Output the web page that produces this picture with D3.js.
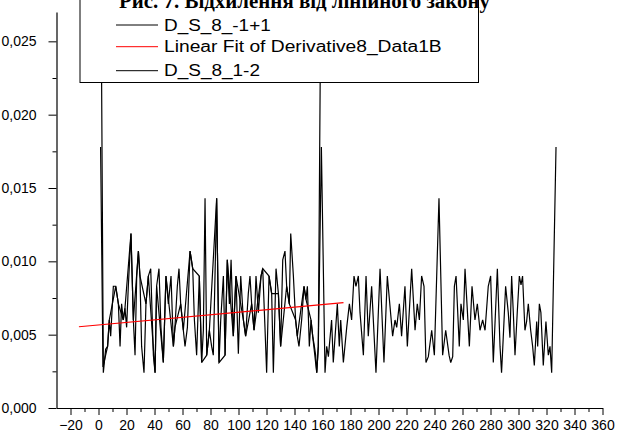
<!DOCTYPE html>
<html>
<head>
<meta charset="utf-8">
<script src="https://cdn.jsdelivr.net/npm/d3@7"></script>
<style>
  body { margin: 0; background: #fff; }
  svg { display: block; }
  text { font-family: Arial, "Liberation Sans", sans-serif; fill: #000; }
</style>
</head>
<body>
<svg id="chart" width="629" height="434"></svg>
<script>
// ---- data -------------------------------------------------------------
const titleText = "Рис. 7. Відхилення від лінійного закону";
const seriesNames = ["D_S_8_-1+1", "Linear Fit of Derivative8_Data1B", "D_S_8_1-2"];
const xTickValues = [-20, 0, 20, 40, 60, 80, 100, 120, 140, 160, 180, 200, 220, 240, 260, 280, 300, 320, 340, 360];
const yTickValues = [0, 0.005, 0.010, 0.015, 0.020, 0.025];

// D_S_8_-1+1  [x, value]
const dsA = [
  [1.5, 0.034], [3.45, 0.0024], [5.1, 0.0040], [6.5, 0.0042], [7.7, 0.0060],
  [8.7, 0.0049], [10.6, 0.0083], [12.3, 0.0083], [14.2, 0.0071], [15.4, 0.0042],
  [16.5, 0.0071], [17.7, 0.0060], [18.9, 0.0068], [20.1, 0.0055], [21.3, 0.0083],
  [23.2, 0.0119], [24.9, 0.0060], [26.1, 0.0036], [27.3, 0.0090], [28.5, 0.0107],
  [29.6, 0.0090], [30.8, 0.0042], [32.5, 0.0024], [33.9, 0.0071], [35.6, 0.0090],
  [37.3, 0.0095], [39.2, 0.0036], [40.4, 0.0024], [41.5, 0.0083], [43.2, 0.0095],
  [44.6, 0.0055], [46.3, 0.0031], [48.2, 0.0090], [49.9, 0.0071], [51.8, 0.0090],
  [53.5, 0.0042], [54.6, 0.0055], [56.3, 0.0083], [57.5, 0.0095], [58.7, 0.0071],
  [60.6, 0.0053], [61.8, 0.0042], [63.5, 0.0055], [65.4, 0.0107], [67.3, 0.0095],
  [68.5, 0.0060], [70.1, 0.0036], [72.0, 0.0090], [73.7, 0.0031], [74.9, 0.0053],
  [76.1, 0.0143], [77.3, 0.0036], [79.2, 0.0053], [80.8, 0.0042], [82.0, 0.0036],
  [84.4, 0.0143], [86.1, 0.0031], [87.3, 0.0060], [89.2, 0.0090], [90.4, 0.0036],
  [92.0, 0.0101], [93.5, 0.0071], [94.7, 0.0101], [96.3, 0.0049], [98.2, 0.0090],
  [99.9, 0.0037], [101.6, 0.0090], [103.5, 0.0060], [105.1, 0.0049], [107.0, 0.0078],
  [108.2, 0.0090], [109.4, 0.0071], [111.1, 0.0053], [112.5, 0.0090], [114.2, 0.0065],
  [116.1, 0.0090], [117.3, 0.0095], [118.9, 0.0055], [120.1, 0.0024], [121.8, 0.0090],
  [123.7, 0.0078], [124.9, 0.0024], [126.8, 0.0095], [128.5, 0.0078], [130.1, 0.0042],
  [131.6, 0.0101], [133.2, 0.0107], [134.4, 0.0083], [136.3, 0.0071], [137.3, 0.0119],
  [139.2, 0.0090], [140.8, 0.0060], [142.0, 0.0049], [143.2, 0.0042], [145.1, 0.0060],
  [146.8, 0.0083], [148.2, 0.0074], [149.2, 0.0083], [150.6, 0.0042], [151.8, 0.0060],
  [153.0, 0.0049], [154.2, 0.0042], [155.1, 0.0036], [155.9, 0.0024], [157.0, 0.0042],
  [159.2, 0.034]
];

// D_S_8_1-2  [x, value]
const dsB = [
  [1.5, 0.0178], [3.2, 0.0028], [6.5, 0.0042], [7.7, 0.0060], [12.3, 0.0083],
  [14.2, 0.0071], [17.7, 0.0060], [18.9, 0.0068], [23.2, 0.0119], [24.9, 0.0060],
  [28.5, 0.0107], [29.6, 0.0090], [33.9, 0.0071], [35.6, 0.0090], [40.4, 0.0024],
  [41.5, 0.0083], [46.3, 0.0031], [48.2, 0.0090], [53.5, 0.0042], [54.6, 0.0055],
  [58.7, 0.0071], [60.6, 0.0053], [65.4, 0.0107], [67.3, 0.0095], [72.0, 0.0090],
  [73.7, 0.0031], [77.3, 0.0036], [79.2, 0.0053], [84.4, 0.0143], [86.1, 0.0031],
  [90.4, 0.0036], [92.0, 0.0101], [96.3, 0.0049], [98.2, 0.0090], [103.5, 0.0060],
  [105.1, 0.0049], [109.4, 0.0071], [111.1, 0.0053], [116.1, 0.0090], [117.3, 0.0095],
  [121.8, 0.0090], [123.7, 0.0078], [128.5, 0.0078], [130.1, 0.0042], [134.4, 0.0083],
  [136.3, 0.0071], [140.8, 0.0060], [142.0, 0.0049], [146.8, 0.0083], [148.2, 0.0074],
  [151.8, 0.0060], [153.0, 0.0049], [155.9, 0.0024], [157.0, 0.0042], [159.2, 0.0178],
  [161.8, 0.0024], [163.0, 0.0042], [164.2, 0.0035], [166.5, 0.0060], [167.7, 0.0031],
  [170.6, 0.0071], [172.0, 0.0042], [173.0, 0.0060], [174.9, 0.0031], [177.3, 0.0055],
  [179.2, 0.0071], [180.8, 0.0060], [182.5, 0.0090], [183.9, 0.0083], [185.6, 0.0090],
  [186.8, 0.0065], [189.2, 0.0036], [191.1, 0.0090], [192.7, 0.0049], [195.1, 0.0083],
  [198.2, 0.0024], [201.1, 0.0095], [203.9, 0.0031], [206.3, 0.0090], [210.1, 0.0049],
  [211.8, 0.0060], [213.0, 0.0055], [214.9, 0.0071], [216.5, 0.0049], [218.9, 0.0083],
  [220.6, 0.0042], [223.7, 0.0095], [226.1, 0.0053], [227.7, 0.0071], [229.2, 0.0060],
  [230.8, 0.0090], [232.5, 0.0083], [233.9, 0.0031], [235.6, 0.0035], [238.0, 0.0053],
  [239.9, 0.0036], [243.2, 0.0143], [245.8, 0.0036], [248.0, 0.0053], [250.4, 0.0036],
  [251.6, 0.0031], [253.0, 0.0035], [254.2, 0.0083], [255.4, 0.0090], [257.7, 0.0042],
  [258.9, 0.0071], [260.6, 0.0060], [261.8, 0.0095], [264.9, 0.0042], [266.8, 0.0083],
  [268.9, 0.0060], [270.6, 0.0071], [272.5, 0.0053], [274.4, 0.0060], [276.1, 0.0053],
  [278.4, 0.0083], [280.1, 0.0090], [282.0, 0.0031], [284.9, 0.0095], [286.8, 0.0042],
  [287.9, 0.0024], [289.1, 0.0048], [290.8, 0.0083], [292.7, 0.0065], [293.9, 0.0048],
  [295.1, 0.0090], [296.3, 0.0065], [297.5, 0.0036], [299.1, 0.0065], [300.6, 0.0090],
  [301.8, 0.0084], [302.9, 0.0090], [304.6, 0.0053], [305.8, 0.0059], [307.0, 0.0071],
  [308.7, 0.0053], [310.1, 0.0042], [311.3, 0.0029], [313.0, 0.0059], [313.7, 0.0042],
  [314.9, 0.0071], [316.0, 0.0065], [317.7, 0.0029], [319.6, 0.0059], [321.3, 0.0036],
  [322.5, 0.0042], [323.7, 0.0024], [326.8, 0.0178]
];

// Linear fit endpoints [x, value]
const fitLine = [[-14, 0.00554], [175, 0.00718]];

// ---- layout -----------------------------------------------------------
const svg = d3.select("#chart");
const plot = { left: 56.5, right: 602.5, top: 12, bottom: 408 };

const x = d3.scaleLinear().domain([-30, 360]).range([plot.left, plot.right]);
const y = d3.scaleLinear().domain([0, 0.027]).range([plot.bottom, plot.top]);

svg.append("defs").append("clipPath").attr("id", "plotClip")
  .append("rect")
  .attr("x", plot.left).attr("y", 0)
  .attr("width", plot.right - plot.left).attr("height", plot.bottom);

const line = d3.line().x(d => x(d[0])).y(d => y(d[1]));

const dataG = svg.append("g").attr("clip-path", "url(#plotClip)");
[dsA, dsB].forEach(s => {
  dataG.append("path").datum(s)
    .attr("d", line)
    .attr("fill", "none")
    .attr("stroke", "#000")
    .attr("stroke-width", 1.2)
    .attr("stroke-linejoin", "miter")
    .attr("stroke-miterlimit", 3);
});
dataG.append("path").datum(fitLine)
  .attr("d", line)
  .attr("fill", "none")
  .attr("stroke", "#ff0000")
  .attr("stroke-width", 1.2);

// ---- axes -------------------------------------------------------------
const fmt = v => d3.format(".3f")(v).replace(".", ",");

svg.append("g").attr("transform", `translate(${plot.left},0)`)
  .call(d3.axisLeft(y).tickValues(yTickValues).tickFormat(fmt)
    .tickSize(8).tickSizeOuter(0).tickPadding(12));
svg.append("g").attr("transform", `translate(${plot.left},0)`)
  .call(d3.axisLeft(y).tickValues(d3.range(0.0025, 0.027, 0.005)).tickFormat("")
    .tickSize(4).tickSizeOuter(0))
  .select(".domain").remove();

svg.append("g").attr("transform", `translate(0,${plot.bottom})`)
  .call(d3.axisBottom(x).tickValues(xTickValues).tickFormat(d3.format("d"))
    .tickSize(7).tickSizeOuter(0).tickPadding(5));
svg.append("g").attr("transform", `translate(0,${plot.bottom})`)
  .call(d3.axisBottom(x).tickValues(d3.range(-10, 360, 20)).tickFormat("")
    .tickSize(4).tickSizeOuter(0))
  .select(".domain").remove();

svg.selectAll(".domain").attr("stroke", "#000").attr("stroke-width", 1.2);
svg.selectAll(".tick line").attr("stroke", "#000");
svg.selectAll(".tick text")
  .style("font-family", "Arial, 'Liberation Sans', sans-serif")
  .style("font-size", "14px");

// ---- legend -----------------------------------------------------------
const legend = svg.append("g");
legend.append("rect")
  .attr("x", 80).attr("y", -5).attr("width", 398.5).attr("height", 87.5)
  .attr("fill", "#fff").attr("stroke", "#000").attr("stroke-width", 1);

const legendRows = [
  { name: seriesNames[0], color: "#000", cy: 25, w: 106.7 },
  { name: seriesNames[1], color: "#ff0000", cy: 46.7, w: 277.7 },
  { name: seriesNames[2], color: "#000", cy: 70.7, w: 96 }
];
legendRows.forEach(r => {
  legend.append("line")
    .attr("x1", 116).attr("x2", 158).attr("y1", r.cy).attr("y2", r.cy)
    .attr("stroke", r.color).attr("stroke-width", 1);
  legend.append("text")
    .attr("x", 164).attr("y", r.cy + 5.7)
    .attr("textLength", r.w).attr("lengthAdjust", "spacingAndGlyphs")
    .style("font-size", "16px")
    .text(r.name);
});

// ---- title ------------------------------------------------------------
svg.append("text")
  .attr("x", 119).attr("y", 8)
  .attr("textLength", 371).attr("lengthAdjust", "spacingAndGlyphs")
  .style("font-family", "'Liberation Serif', 'Times New Roman', serif")
  .style("font-weight", "bold")
  .style("font-size", "20px")
  .text(titleText);
</script>
</body>
</html>
